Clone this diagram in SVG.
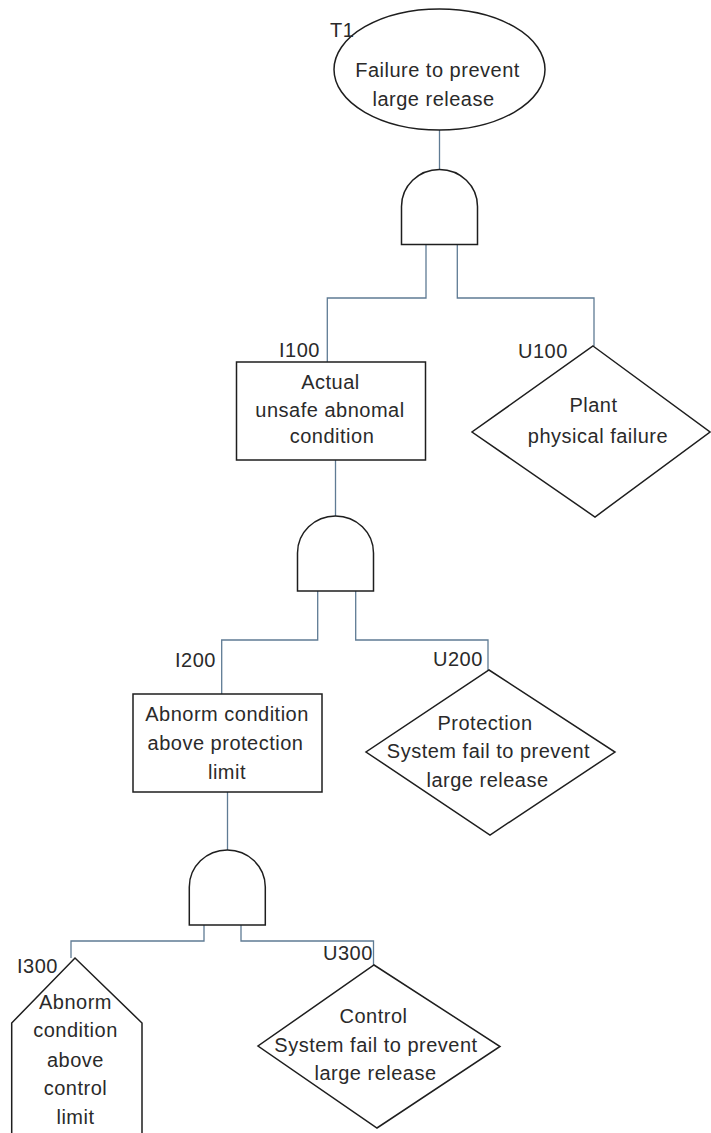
<svg xmlns="http://www.w3.org/2000/svg" width="711" height="1133" viewBox="0 0 711 1133">
  <style>
    .bg { fill: #ffffff; }
    .shape { fill: #ffffff; stroke: #1e1e1e; stroke-width: 1.5; }
    .wire { fill: none; stroke: #5f7b94; stroke-width: 1.3; }
    .txt { font-family: "Liberation Sans", Arial, sans-serif; font-size: 20px; fill: #2a2a2a; letter-spacing: 0.5px; }
    .mid { text-anchor: middle; }
  </style>
  <defs>
    <!-- AND gate, origin at the top centre of the dome -->
    <path id="andGate" d="M-38,75 V37 A38,37 0 0 1 38,37 V75 Z"/>
  </defs>

  <rect class="bg" x="0" y="0" width="711" height="1133"/>

  <!-- connectors -->
  <g id="connectors" class="wire">
    <path d="M439.5,130 V169.5"/>
    <path d="M426,244.5 V298 H327.3 V362"/>
    <path d="M457.3,244.5 V298 H594 V346"/>
    <path d="M335.5,460 V516"/>
    <path d="M317.7,591 V640 H221.7 V694"/>
    <path d="M355.7,591 V640 H488 V670"/>
    <path d="M227.5,792 V850"/>
    <path d="M204,925 V941 H71 V958"/>
    <path d="M241,925 V941 H373.5 V965"/>
  </g>

  <!-- top event -->
  <g id="T1">
    <ellipse class="shape" cx="439.5" cy="69.5" rx="105.5" ry="60.5"/>
    <text class="txt" x="330" y="37">T1</text>
    <text class="txt mid" x="437.5" y="77">Failure to prevent</text>
    <text class="txt mid" x="433.5" y="106">large release</text>
  </g>

  <g id="G1">
    <use href="#andGate" class="shape" x="439.5" y="169.5"/>
  </g>

  <g id="I100">
    <rect class="shape" x="236.5" y="362" width="189" height="98"/>
    <text class="txt" x="279" y="357">I100</text>
    <text class="txt mid" x="330.5" y="389">Actual</text>
    <text class="txt mid" x="330" y="416.5">unsafe abnomal</text>
    <text class="txt mid" x="332" y="443">condition</text>
  </g>

  <g id="U100">
    <polygon class="shape" points="593,346 710,432 595,517 472,432"/>
    <text class="txt" x="518" y="358">U100</text>
    <text class="txt mid" x="593.5" y="411.5">Plant</text>
    <text class="txt mid" x="598" y="443">physical failure</text>
  </g>

  <g id="G2">
    <use href="#andGate" class="shape" x="335.5" y="516"/>
  </g>

  <g id="I200">
    <rect class="shape" x="133" y="694" width="189" height="98"/>
    <text class="txt" x="175" y="666.5">I200</text>
    <text class="txt mid" x="227" y="720.5">Abnorm condition</text>
    <text class="txt mid" x="225.5" y="749.5">above protection</text>
    <text class="txt mid" x="227" y="778.5">limit</text>
  </g>

  <g id="U200">
    <polygon class="shape" points="489,670 615,752 490,835 366,752"/>
    <text class="txt" x="433" y="666">U200</text>
    <text class="txt mid" x="485" y="730">Protection</text>
    <text class="txt mid" x="488.5" y="758">System fail to prevent</text>
    <text class="txt mid" x="487.5" y="786.5">large release</text>
  </g>

  <g id="G3">
    <use href="#andGate" class="shape" x="227.3" y="850"/>
  </g>

  <g id="I300">
    <path class="shape" d="M11.7,1140 V1023 L75,958 L142,1023 V1140"/>
    <text class="txt" x="17" y="973">I300</text>
    <text class="txt mid" x="75.5" y="1009">Abnorm</text>
    <text class="txt mid" x="75.5" y="1036.5">condition</text>
    <text class="txt mid" x="75.5" y="1066.5">above</text>
    <text class="txt mid" x="75.5" y="1095">control</text>
    <text class="txt mid" x="75.5" y="1124">limit</text>
  </g>

  <g id="U300">
    <polygon class="shape" points="374,965 500,1046.5 377,1128 258,1046"/>
    <text class="txt" x="323" y="960">U300</text>
    <text class="txt mid" x="373.5" y="1023">Control</text>
    <text class="txt mid" x="376" y="1051.5">System fail to prevent</text>
    <text class="txt mid" x="375.5" y="1080">large release</text>
  </g>
</svg>
